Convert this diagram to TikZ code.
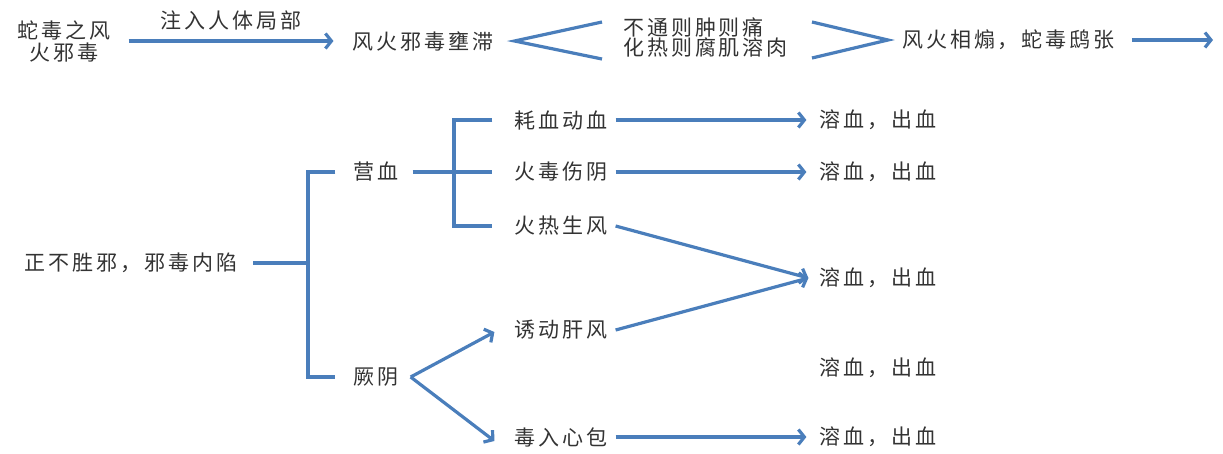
\documentclass[tikz,border=0pt]{standalone}
\usepackage{fontspec}
\newfontfamily\cjk[LetterSpace=14]{Noto Sans CJK SC}
\usetikzlibrary{arrows.meta,calc}
\definecolor{ln}{HTML}{4A7EBB}
\definecolor{tx}{HTML}{333333}
\begin{document}
\begin{tikzpicture}[x=1pt,y=-1pt,
  txt/.style={inner sep=0pt,font=\cjk\fontsize{21}{22}\selectfont,text=tx,align=center},
  conn/.style={draw=ln,line width=3.2pt},
  arr/.style={conn,-{Straight Barb[length=6pt,width=15pt]}}]
\useasboundingbox (0,0) rectangle (1223,453);
% top row
\node[txt] (src) at (64,41) {蛇毒之风\\火邪毒};
\node[txt] (inj) at (231,20) {注入人体局部};
\node[txt] (stag) at (423,41) {风火邪毒壅滞};
\node[txt,anchor=west] (c1) at (623,27) {不通则肿则痛};
\node[txt,anchor=west] (c2) at (623,48) {化热则腐肌溶肉};
\node[txt,anchor=west] (res) at (902,40) {风火相煽，蛇毒鸱张};
\coordinate (tend) at (1213,40);
\draw[arr] ([xshift=18pt]src.east) -- ([xshift=-19pt]stag.west);
\draw[conn] ($(c1.west)+(-21,-5)$) -- ([xshift=21pt]stag.east) -- ($(c2.west)+(-21,11)$);
\draw[conn] ($(c1.west)+(189,-5)$) -- ([xshift=-14pt]res.west) -- ($(c2.west)+(189,10)$);
\draw[arr] ([xshift=17pt]res.east) -- (tend);
% bottom part
\node[txt] (root) at (131,263) {正不胜邪，邪毒内陷};
\node[txt] (yx) at (376,172) {营血};
\node[txt] (jy) at (376,377) {厥阴};
\node[txt] (h1) at (561,120) {耗血动血};
\node[txt] (h2) at (561,172) {火毒伤阴};
\node[txt] (h3) at (561,226) {火热生风};
\node[txt] (h4) at (561,330) {诱动肝风};
\node[txt] (h5) at (561,437) {毒入心包};
\node[txt] (r1) at (878,120) {溶血，出血};
\node[txt] (r2) at (878,172) {溶血，出血};
\node[txt] (r3) at (878,278) {溶血，出血};
\node[txt] (r4) at (878,368) {溶血，出血};
\node[txt] (r5) at (878,437) {溶血，出血};
\coordinate (b1) at (308,263);
\coordinate (b2) at (454,172);
\draw[conn] ([xshift=16pt]root.east) -- (b1);
\draw[conn] ([xshift=-18pt]yx.west) -| (b1) |- ([xshift=-18pt]jy.west);
\draw[conn] ([xshift=14pt]yx.east) -- ([xshift=-22pt]h2.west);
\draw[conn] ([xshift=-22pt]h1.west) -| (b2) |- ([xshift=-22pt]h3.west);
\draw[arr] ([xshift=8pt]h1.east) -- ([xshift=-13pt]r1.west);
\draw[arr] ([xshift=8pt]h2.east) -- ([xshift=-13pt]r2.west);
\draw[arr] ([xshift=8pt]h3.east) -- ([xshift=-11pt]r3.west);
\draw[arr] ([xshift=8pt]h4.east) -- ([xshift=-11pt]r3.west);
\draw[arr] ([xshift=8pt]h5.east) -- ([xshift=-13pt]r5.west);
\draw[arr] ([xshift=12pt]jy.east) -- ([xshift=-20pt,yshift=-2pt]h4.west);
\draw[arr] ([xshift=12pt]jy.east) -- ([xshift=-20pt,yshift=-4pt]h5.west);
\end{tikzpicture}
\end{document}
